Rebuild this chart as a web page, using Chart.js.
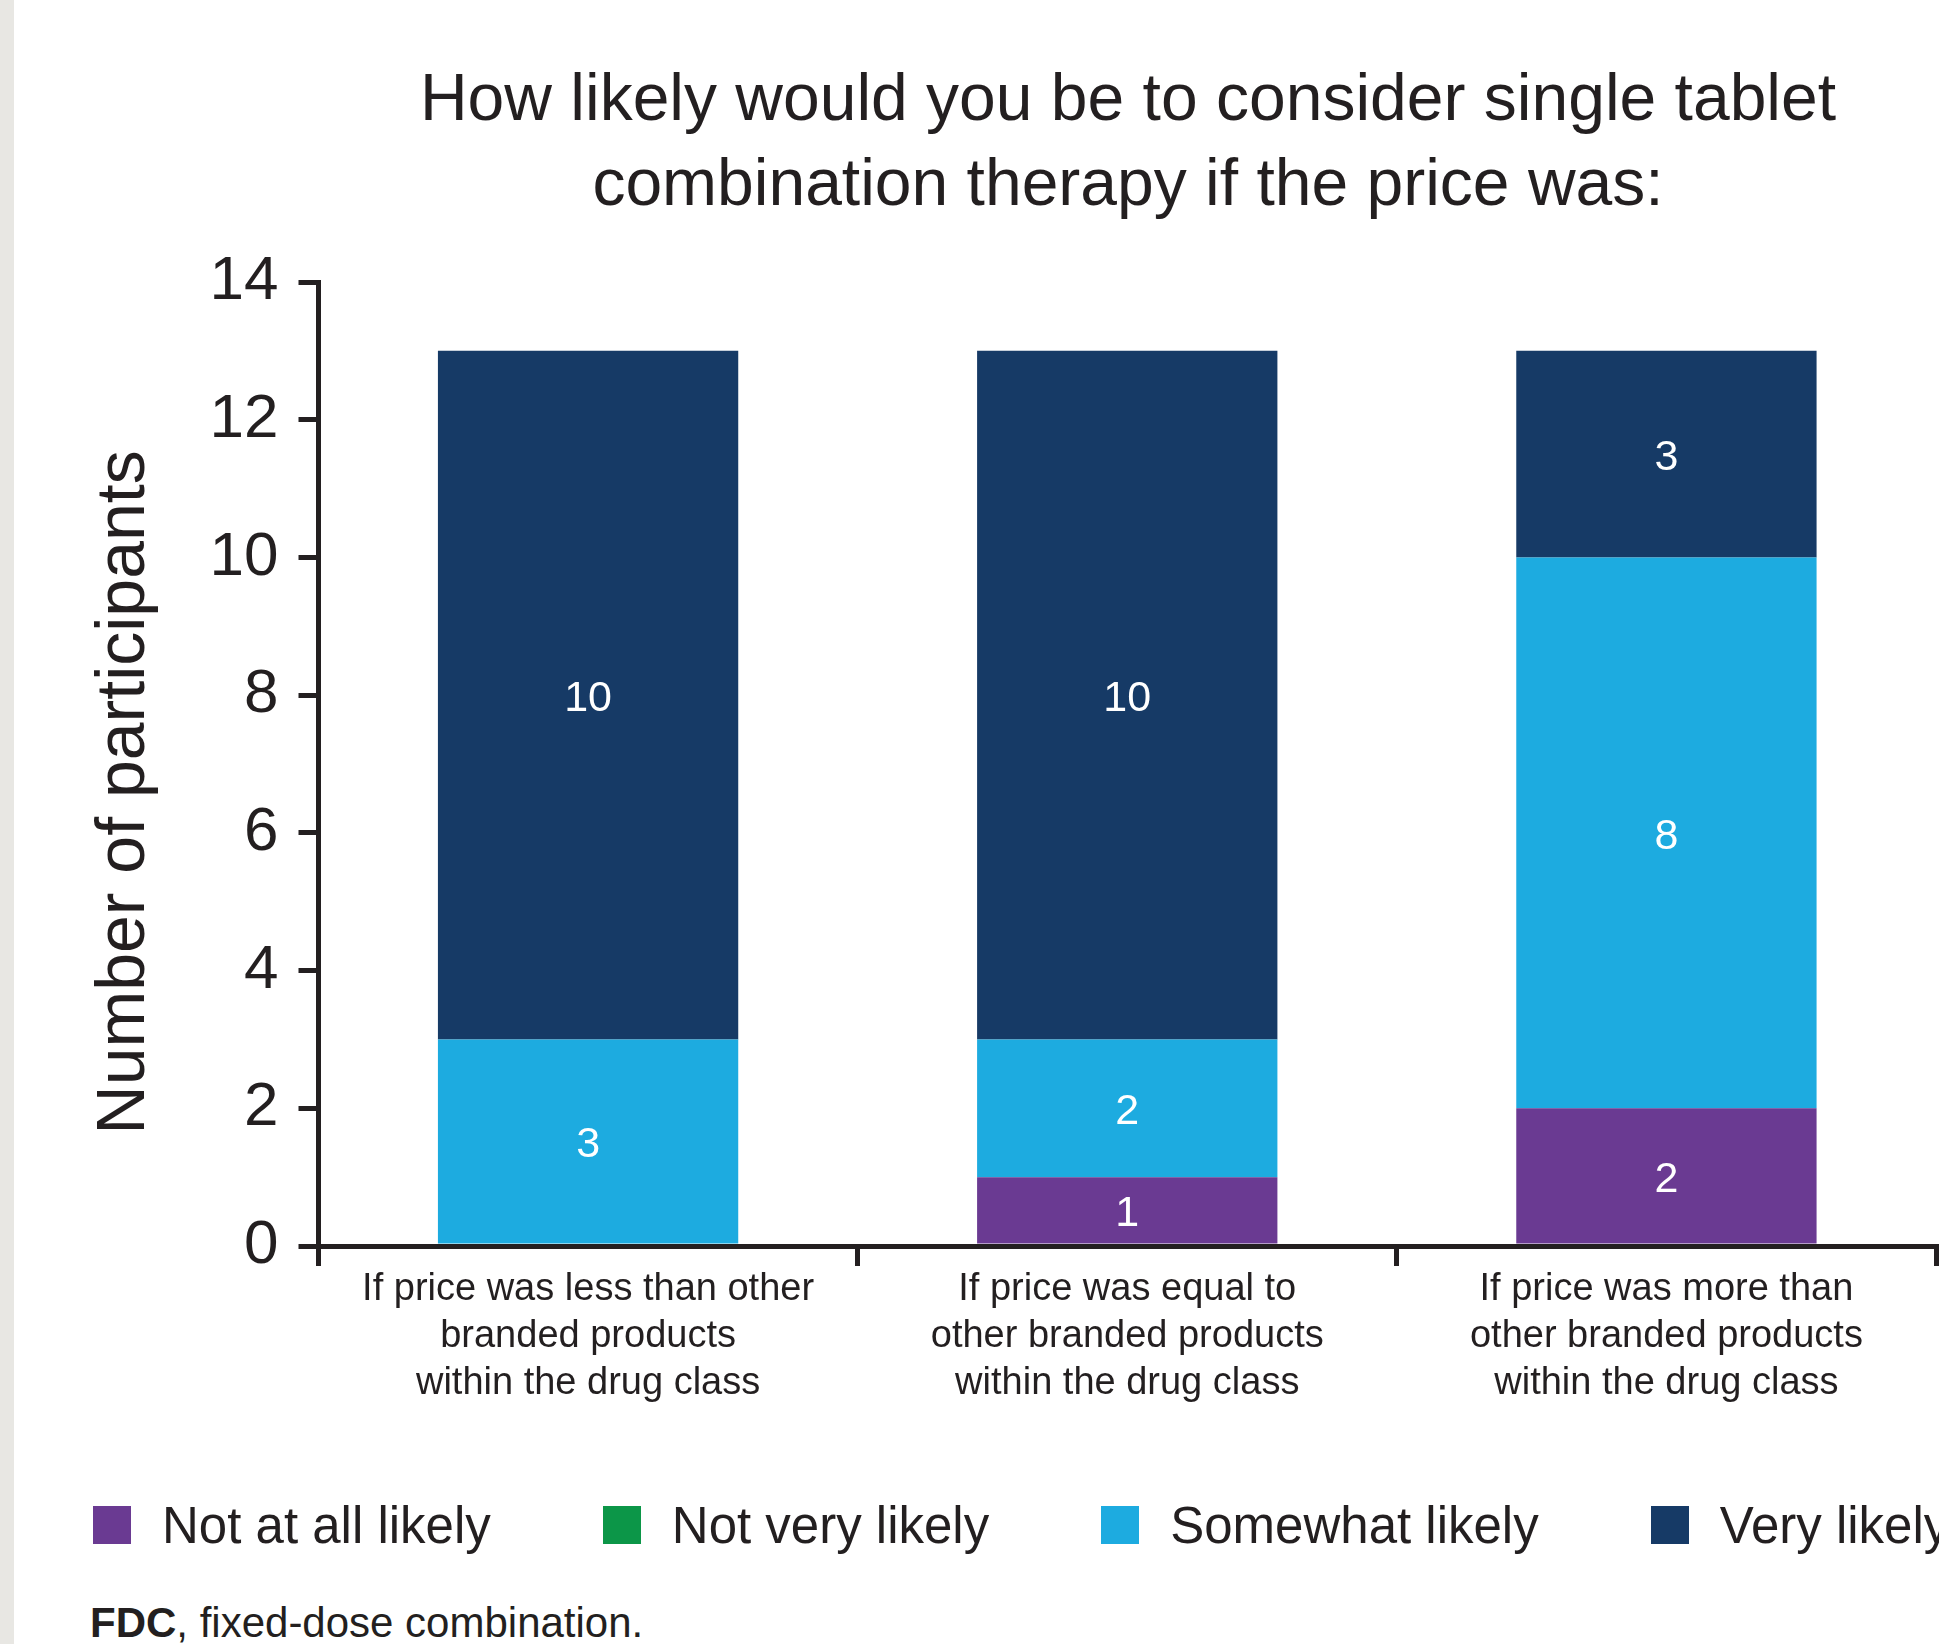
<!DOCTYPE html>
<html lang="en">
<head>
<meta charset="utf-8">
<title>Single tablet combination therapy by price</title>
<script src="https://cdn.jsdelivr.net/npm/chart.js@4.4.1/dist/chart.umd.min.js"></script>
<style>
    html, body {
        margin: 0;
        padding: 0;
        width: 1939px;
        height: 1644px;
        overflow: hidden;
        background: #ffffff;
        color: #231f20;
        font-family: 'Liberation Sans', Arial, Helvetica, sans-serif;
    }
    #strip {
        position: absolute;
        left: 0;
        top: 0;
        width: 14px;
        height: 1644px;
        background: #e8e7e3;
    }
    #chart-title {
        position: absolute;
        left: 319px;
        top: 55px;
        width: 1618px;
        font-size: 66px;
        line-height: 85px;
        text-align: center;
    }
    #chart-box {
        position: absolute;
        left: 0;
        top: 0;
        width: 1939px;
        height: 1446px;
    }
    #legend {
        position: absolute;
        left: 93px;
        top: 1495px;
        height: 60px;
        width: max-content;
        display: flex;
        align-items: center;
        gap: 112px;
        font-size: 51px;
        line-height: 1;
        white-space: nowrap;
    }
    .legend-item {
        display: flex;
        align-items: center;
    }
    .legend-box {
        width: 38px;
        height: 38px;
        margin-right: 31px;
    }
    #note {
        position: absolute;
        left: 90px;
        top: 1602px;
        font-size: 42px;
        line-height: 1;
        white-space: nowrap;
    }
</style>
</head>
<body>
<div id="strip"></div>
<div id="chart-box"><canvas id="priceChart"></canvas></div>
<div id="chart-title">How likely would you be to consider single tablet<br>combination therapy if the price was:</div>
<div id="legend"></div>
<div id="note"><b>FDC</b>, fixed-dose combination.</div>

<script>
// Chart data
const categories = [
    ['If price was less than other', 'branded products', 'within the drug class'],
    ['If price was equal to', 'other branded products', 'within the drug class'],
    ['If price was more than', 'other branded products', 'within the drug class']
];
const seriesNames = ['Not at all likely', 'Not very likely', 'Somewhat likely', 'Very likely'];
const notAtAllLikely = [0, 1, 2];
const notVeryLikely = [0, 0, 0];
const somewhatLikely = [3, 2, 8];
const veryLikely = [10, 10, 3];
const yTicks = [0, 2, 4, 6, 8, 10, 12, 14];
const yTitle = 'Number of participants';

const seriesColors = ['#6a3a92', '#0c9648', '#1dabe0', '#163a66'];
const ink = '#231f20';
const fontFamily = "'Liberation Sans', Arial, Helvetica, sans-serif";

Chart.defaults.font.family = fontFamily;
Chart.defaults.color = ink;

// White value labels in the middle of each segment
const segmentLabels = {
    id: 'segmentLabels',
    afterDatasetsDraw(chart) {
        const ctx = chart.ctx;
        ctx.save();
        ctx.fillStyle = '#ffffff';
        ctx.font = '43px ' + fontFamily;
        ctx.textAlign = 'center';
        ctx.textBaseline = 'middle';
        chart.data.datasets.forEach((ds, i) => {
            chart.getDatasetMeta(i).data.forEach((bar, j) => {
                const v = ds.data[j];
                if (!v) return;
                // sits a touch below the true middle, like the original
                ctx.fillText(String(v), bar.x, (bar.y + bar.base) / 2 + 4);
            });
        });
        ctx.restore();
    }
};

const seriesValues = [notAtAllLikely, notVeryLikely, somewhatLikely, veryLikely];

const priceChart = new Chart(document.getElementById('priceChart').getContext('2d'), {
    type: 'bar',
    data: {
        labels: categories,
        datasets: seriesNames.map((name, i) => ({
            label: name,
            data: seriesValues[i],
            backgroundColor: seriesColors[i],
            borderWidth: 0,
            categoryPercentage: 1,
            barPercentage: 0.557
        }))
    },
    options: {
        responsive: true,
        maintainAspectRatio: false,
        animation: false,
        layout: {
            padding: { top: 282, right: 3, bottom: 0, left: 0 }
        },
        plugins: {
            legend: { display: false },
            tooltip: { enabled: false }
        },
        scales: {
            x: {
                stacked: true,
                grid: {
                    display: true,
                    drawOnChartArea: false,
                    drawTicks: true,
                    tickLength: 20,
                    offset: true,
                    lineWidth: 5,
                    color: ink
                },
                border: { display: true, width: 5, color: ink },
                ticks: {
                    color: ink,
                    font: { size: 38, lineHeight: 1.24 },
                    padding: 0,
                    maxRotation: 0,
                    autoSkip: false
                },
                afterFit: (scale) => { scale.height = 200; }
            },
            y: {
                stacked: true,
                min: yTicks[0],
                max: yTicks[yTicks.length - 1],
                afterBuildTicks: (scale) => {
                    scale.ticks = yTicks.map(v => ({ value: v }));
                },
                grid: {
                    display: true,
                    drawOnChartArea: false,
                    drawTicks: true,
                    tickLength: 20,
                    lineWidth: 5,
                    color: ink
                },
                border: { display: true, width: 5, color: ink },
                ticks: {
                    color: ink,
                    font: { size: 62 },
                    padding: 20
                },
                title: {
                    display: true,
                    // trailing spaces nudge the rotated title down a little
                    text: yTitle + '   ',
                    color: ink,
                    font: { size: 68, lineHeight: 1.2 },
                    padding: { top: 84, bottom: 0 }
                },
                afterFit: (scale) => { scale.width = 318.5; }
            }
        }
    },
    plugins: [segmentLabels]
});

// HTML legend built from the datasets
const legendEl = document.getElementById('legend');
priceChart.data.datasets.forEach(ds => {
    const item = document.createElement('div');
    item.className = 'legend-item';
    const box = document.createElement('span');
    box.className = 'legend-box';
    box.style.background = ds.backgroundColor;
    const text = document.createElement('span');
    text.textContent = ds.label;
    item.appendChild(box);
    item.appendChild(text);
    legendEl.appendChild(item);
});
</script>
</body>
</html>
